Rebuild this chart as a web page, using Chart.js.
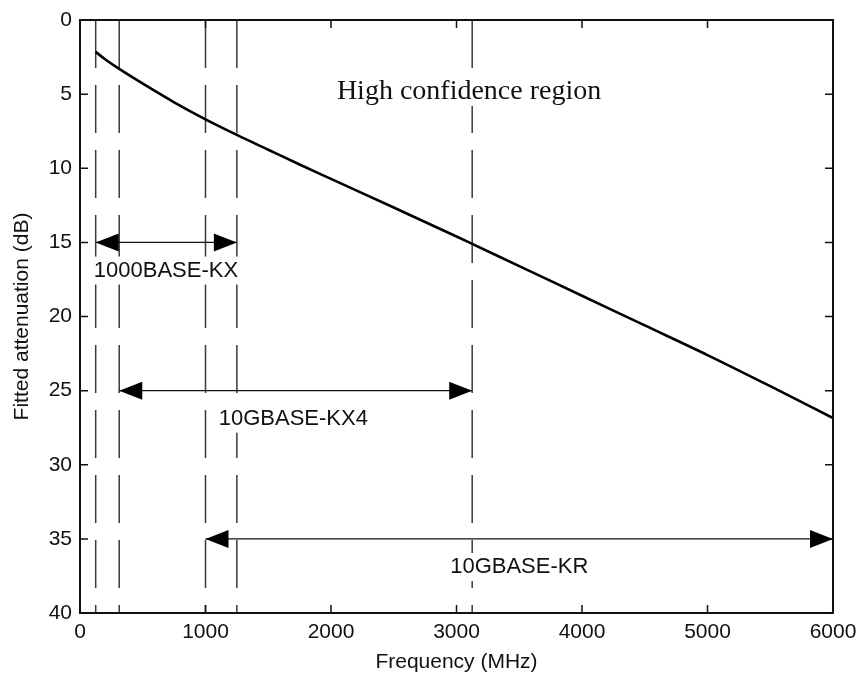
<!DOCTYPE html>
<html lang="en">
  <head>
    <meta charset="UTF-8" />
    <title>Fitted attenuation</title>
    <style>
      html, body { margin: 0; padding: 0; background: #fff; }
      .chart-box { width: 860px; height: 673px; }
    </style>
  </head>
  <body>
    <div class="chart-box">
      <canvas id="myChart" width="860" height="673"></canvas>
    </div>

    <script src="https://cdn.jsdelivr.net/npm/chart.js"></script>
    <script>
      // fitted attenuation curve
      const freqMHz = [125, 200, 312.5, 560, 750, 1000, 1250, 1500, 1750, 2000, 2500, 3000, 3125, 3500, 4000, 4500, 5000, 5500, 6000];
      const attenDb = [2.15, 2.65, 3.3, 4.6, 5.55, 6.7, 7.75, 8.75, 9.75, 10.72, 12.65, 14.6, 15.1, 16.6, 18.6, 20.6, 22.6, 24.7, 26.85];

      // dashed marker lines (MHz)
      const markerFreqs = [125, 312.5, 1000, 1250, 3125];

      // band arrows
      const bandNames = ["1000BASE-KX", "10GBASE-KX4", "10GBASE-KR"];
      const bandStart = [125, 312.5, 1000];
      const bandEnd = [1250, 3125, 6000];
      const bandLevel = [15, 25, 35];
      const bandLabelX = [685, 1700, 3500];
      const bandLabelY = [16.9, 26.9, 36.9];

      const noteText = "High confidence region";
      const noteX = 3100;
      const noteY = 4.85;

      const xMin = 0, xMax = 6000, xStep = 1000;
      const yMin = 0, yMax = 40, yStep = 5;

      const sans = "'Liberation Sans', Arial, sans-serif";
      const serif = "'Liberation Serif', 'Times New Roman', serif";

      const datasets = [
        {
          label: "Fitted attenuation",
          data: freqMHz.map((f, i) => ({ x: f, y: attenDb[i] })),
          borderColor: "#000",
          borderWidth: 2.6,
          pointRadius: 0,
          cubicInterpolationMode: "monotone",
        },
      ];

      bandNames.forEach((name, i) => {
        datasets.push({
          label: name,
          data: [{ x: bandStart[i], y: bandLevel[i] }, { x: bandEnd[i], y: bandLevel[i] }],
          borderColor: "#111",
          borderWidth: 1.3,
          pointRadius: 0,
        });
      });

      markerFreqs.forEach(f => {
        datasets.push({
          label: "marker " + f,
          data: [{ x: f, y: yMin }, { x: f, y: yMax }],
          borderColor: "#3a3a3a",
          borderWidth: 1.5,
          borderDash: [48, 17],
          pointRadius: 0,
        });
      });

      // box, inward ticks, arrow heads and text
      const decorations = {
        id: "decorations",
        afterDatasetsDraw(chart) {
          const ctx = chart.ctx;
          const xs = chart.scales.x;
          const ys = chart.scales.y;
          const a = chart.chartArea;
          ctx.save();

          // arrow heads
          ctx.fillStyle = "#000";
          bandNames.forEach((name, i) => {
            const y = ys.getPixelForValue(bandLevel[i]);
            const x1 = xs.getPixelForValue(bandStart[i]);
            const x2 = xs.getPixelForValue(bandEnd[i]);
            ctx.beginPath();
            ctx.moveTo(x1, y);
            ctx.lineTo(x1 + 23, y - 9);
            ctx.lineTo(x1 + 23, y + 9);
            ctx.closePath();
            ctx.fill();
            ctx.beginPath();
            ctx.moveTo(x2, y);
            ctx.lineTo(x2 - 23, y - 9);
            ctx.lineTo(x2 - 23, y + 9);
            ctx.closePath();
            ctx.fill();
          });

          // labels with white backing
          function label(text, x, y, font) {
            ctx.font = font;
            const w = ctx.measureText(text).width;
            ctx.fillStyle = "#fff";
            ctx.fillRect(x - w / 2 - 3, y - 14, w + 6, 28);
            ctx.fillStyle = "#111";
            ctx.textAlign = "center";
            ctx.textBaseline = "middle";
            ctx.fillText(text, x, y);
          }
          bandNames.forEach((name, i) => {
            label(name, xs.getPixelForValue(bandLabelX[i]), ys.getPixelForValue(bandLabelY[i]), "22px " + sans);
          });
          label(noteText, xs.getPixelForValue(noteX), ys.getPixelForValue(noteY), "28px " + serif);

          // frame
          ctx.strokeStyle = "#111";
          ctx.lineWidth = 2;
          ctx.strokeRect(a.left, a.top, a.right - a.left, a.bottom - a.top);

          // inward ticks
          ctx.lineWidth = 1.5;
          ctx.beginPath();
          for (let v = xMin; v <= xMax; v += xStep) {
            const x = xs.getPixelForValue(v);
            ctx.moveTo(x, a.bottom);
            ctx.lineTo(x, a.bottom - 8);
            ctx.moveTo(x, a.top);
            ctx.lineTo(x, a.top + 8);
          }
          for (let v = yMin; v <= yMax; v += yStep) {
            const y = ys.getPixelForValue(v);
            ctx.moveTo(a.left, y);
            ctx.lineTo(a.left + 8, y);
            ctx.moveTo(a.right, y);
            ctx.lineTo(a.right - 8, y);
          }
          ctx.stroke();
          ctx.restore();
        },
      };

      new Chart(document.getElementById("myChart"), {
        type: "line",
        data: { datasets },
        plugins: [decorations],
        options: {
          responsive: false,
          animation: false,
          layout: { padding: { top: 20, right: 27, left: 0, bottom: 0 } },
          plugins: {
            legend: { display: false },
            tooltip: { enabled: false },
          },
          scales: {
            x: {
              type: "linear",
              min: xMin,
              max: xMax,
              afterFit: scale => {
                scale.height = 60;
                scale.paddingLeft = 0;
                scale.paddingRight = 0;
              },
              grid: { display: false, drawTicks: false },
              border: { display: false },
              ticks: {
                stepSize: xStep,
                padding: 7,
                color: "#111",
                font: { family: sans, size: 21 },
                callback: v => String(v),
              },
              title: {
                display: true,
                text: "Frequency (MHz)",
                color: "#111",
                font: { family: sans, size: 21, lineHeight: 1 },
                padding: 0,
              },
            },
            y: {
              type: "linear",
              reverse: true,
              min: yMin,
              max: yMax,
              afterFit: scale => {
                scale.width = 80;
                scale.paddingTop = 0;
                scale.paddingBottom = 0;
              },
              grid: { display: false, drawTicks: false },
              border: { display: false },
              ticks: {
                stepSize: yStep,
                padding: 8,
                color: "#111",
                font: { family: sans, size: 21 },
                callback: v => String(v),
              },
              title: {
                display: true,
                text: "Fitted attenuation (dB)",
                color: "#111",
                font: { family: sans, size: 21 },
                padding: { top: 10, bottom: 0 },
              },
            },
          },
        },
      });
    </script>
  </body>
</html>
